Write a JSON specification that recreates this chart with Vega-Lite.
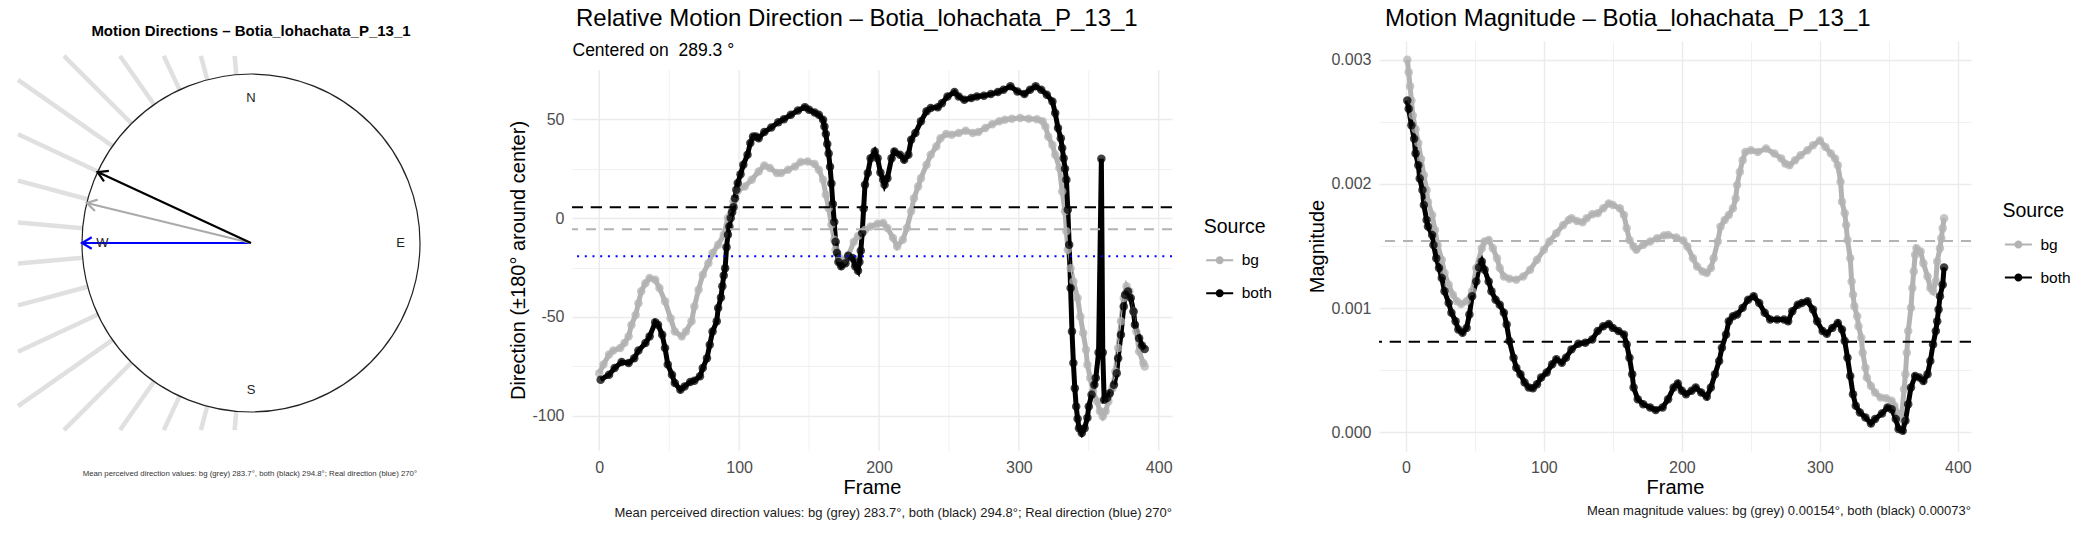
{
"$schema": "https://vega.github.io/schema/vega-lite/v6.json",
"background": "white",
"padding": {"left": 15, "top": 7, "right": 5, "bottom": 5},
"spacing": 24,
"config": {"font": "Liberation Sans", "view": {"stroke": null}},
"resolve": {"scale": {"x": "independent", "y": "independent", "color": "independent"}, "legend": {"color": "independent"}},
"datasets": {
"rays": [
{"b":185,"x1":-0.08716,"y1":-0.99619,"x2":-0.09685,"y2":-1.107},
{"b":195,"x1":-0.25882,"y1":-0.96593,"x2":-0.29662,"y2":-1.107},
{"b":205,"x1":-0.42262,"y1":-0.90631,"x2":-0.51621,"y2":-1.107},
{"b":215,"x1":-0.57358,"y1":-0.81915,"x2":-0.77514,"y2":-1.107},
{"b":225,"x1":-0.70711,"y1":-0.70711,"x2":-1.107,"y2":-1.107},
{"b":235,"x1":-0.81915,"y1":-0.57358,"x2":-1.379,"y2":-0.96559},
{"b":245,"x1":-0.90631,"y1":-0.42262,"x2":-1.379,"y2":-0.64304},
{"b":255,"x1":-0.96593,"y1":-0.25882,"x2":-1.379,"y2":-0.3695},
{"b":265,"x1":-0.99619,"y1":-0.08716,"x2":-1.379,"y2":-0.12065},
{"b":275,"x1":-0.99619,"y1":0.08716,"x2":-1.379,"y2":0.12065},
{"b":285,"x1":-0.96593,"y1":0.25882,"x2":-1.379,"y2":0.3695},
{"b":295,"x1":-0.90631,"y1":0.42262,"x2":-1.379,"y2":0.64304},
{"b":305,"x1":-0.81915,"y1":0.57358,"x2":-1.379,"y2":0.96559},
{"b":315,"x1":-0.70711,"y1":0.70711,"x2":-1.107,"y2":1.107},
{"b":325,"x1":-0.57358,"y1":0.81915,"x2":-0.77514,"y2":1.107},
{"b":335,"x1":-0.42262,"y1":0.90631,"x2":-0.51621,"y2":1.107},
{"b":345,"x1":-0.25882,"y1":0.96593,"x2":-0.29662,"y2":1.107},
{"b":355,"x1":-0.08716,"y1":0.99619,"x2":-0.09685,"y2":1.107}
],
"center": [{"x":0,"y":0}],
"arrows": [
{"k":"real","x0":0,"y0":0,"x":-1,"y":0,"rot":180},
{"k":"bg","x0":0,"y0":0,"x":-0.97154,"y":0.23684,"rot":193.7},
{"k":"both","x0":0,"y0":0,"x":-0.90778,"y":0.41945,"rot":204.8}
],
"compass": [
{"t":"N","x":0,"y":0.86},
{"t":"S","x":0,"y":-0.87},
{"t":"E","x":0.885,"y":0},
{"t":"W","x":-0.88,"y":0}
],
"xgrid": [{"g":0},{"g":50},{"g":100},{"g":150},{"g":200},{"g":250},{"g":300},{"g":350},{"g":400}],
"dmeans": [
{"k":"both","v":5.5},
{"k":"bg","v":-5.6},
{"k":"real","v":-19.3}
],
"mmeans": [
{"k":"bg","m":0.00154},
{"k":"both","m":0.00073}
],
"dir": [
{"f":0,"s":"bg","v":-78.4},{"f":3,"s":"bg","v":-74},{"f":7,"s":"bg","v":-69},{"f":10,"s":"bg","v":-67},{"f":15,"s":"bg","v":-65.7},{"f":18,"s":"bg","v":-63.2},{"f":21,"s":"bg","v":-59.8},{"f":23,"s":"bg","v":-54},{"f":26,"s":"bg","v":-49},{"f":28,"s":"bg","v":-43},{"f":30,"s":"bg","v":-37},{"f":33,"s":"bg","v":-32.9},{"f":36,"s":"bg","v":-30.3},{"f":40,"s":"bg","v":-31.2},{"f":43,"s":"bg","v":-35.4},{"f":47,"s":"bg","v":-42.1},{"f":51,"s":"bg","v":-50.6},{"f":54,"s":"bg","v":-57.3},{"f":59,"s":"bg","v":-59.8},{"f":62,"s":"bg","v":-57.3},{"f":66,"s":"bg","v":-52.2},{"f":68,"s":"bg","v":-44.7},{"f":71,"s":"bg","v":-36.2},{"f":74,"s":"bg","v":-28.6},{"f":78,"s":"bg","v":-22.8},{"f":81,"s":"bg","v":-17.7},{"f":85,"s":"bg","v":-13.5},{"f":89,"s":"bg","v":-8.4},{"f":92,"s":"bg","v":0},{"f":96,"s":"bg","v":8.4},{"f":99,"s":"bg","v":13.8},{"f":104,"s":"bg","v":16},{"f":109,"s":"bg","v":19.4},{"f":114,"s":"bg","v":23.6},{"f":118,"s":"bg","v":26.6},{"f":122,"s":"bg","v":25.3},{"f":127,"s":"bg","v":22.8},{"f":130,"s":"bg","v":22.8},{"f":135,"s":"bg","v":24.4},{"f":140,"s":"bg","v":26.1},{"f":144,"s":"bg","v":28.3},{"f":149,"s":"bg","v":28.6},{"f":154,"s":"bg","v":27.3},{"f":157,"s":"bg","v":24.4},{"f":160,"s":"bg","v":19.4},{"f":162,"s":"bg","v":11.8},{"f":164,"s":"bg","v":5},{"f":166,"s":"bg","v":-3.4},{"f":168,"s":"bg","v":-11},{"f":169,"s":"bg","v":-16},{"f":172,"s":"bg","v":-20.2},{"f":175,"s":"bg","v":-21.5},{"f":178,"s":"bg","v":-19},{"f":182,"s":"bg","v":-12},{"f":185,"s":"bg","v":-9},{"f":190,"s":"bg","v":-6},{"f":194,"s":"bg","v":-4.2},{"f":199,"s":"bg","v":-2.9},{"f":203,"s":"bg","v":-2.5},{"f":206,"s":"bg","v":-5},{"f":210,"s":"bg","v":-10},{"f":213,"s":"bg","v":-14.3},{"f":217,"s":"bg","v":-11},{"f":220,"s":"bg","v":-5},{"f":223,"s":"bg","v":3.4},{"f":225,"s":"bg","v":10},{"f":228,"s":"bg","v":16},{"f":230,"s":"bg","v":20.2},{"f":234,"s":"bg","v":27},{"f":237,"s":"bg","v":32},{"f":241,"s":"bg","v":36.2},{"f":244,"s":"bg","v":40.4},{"f":248,"s":"bg","v":42.5},{"f":252,"s":"bg","v":42.1},{"f":257,"s":"bg","v":43},{"f":262,"s":"bg","v":44.2},{"f":267,"s":"bg","v":43},{"f":271,"s":"bg","v":43.5},{"f":276,"s":"bg","v":45.5},{"f":281,"s":"bg","v":47.5},{"f":286,"s":"bg","v":48.9},{"f":290,"s":"bg","v":49.7},{"f":295,"s":"bg","v":50.2},{"f":301,"s":"bg","v":50.6},{"f":307,"s":"bg","v":50.2},{"f":313,"s":"bg","v":50},{"f":317,"s":"bg","v":48.9},{"f":319,"s":"bg","v":46.3},{"f":321,"s":"bg","v":41.3},{"f":324,"s":"bg","v":37},{"f":326,"s":"bg","v":32},{"f":329,"s":"bg","v":25.3},{"f":331,"s":"bg","v":13.5},{"f":333,"s":"bg","v":3.4},{"f":334,"s":"bg","v":-6.7},{"f":335,"s":"bg","v":-16},{"f":337,"s":"bg","v":-25.3},{"f":339,"s":"bg","v":-32},{"f":342,"s":"bg","v":-40.4},{"f":344,"s":"bg","v":-49.7},{"f":346,"s":"bg","v":-58.1},{"f":348,"s":"bg","v":-66.6},{"f":349,"s":"bg","v":-74.1},{"f":351,"s":"bg","v":-80.9},{"f":353,"s":"bg","v":-87.6},{"f":356,"s":"bg","v":-92.7},{"f":358,"s":"bg","v":-97.7},{"f":360,"s":"bg","v":-100.3},{"f":362,"s":"bg","v":-97.7},{"f":364,"s":"bg","v":-92.7},{"f":367,"s":"bg","v":-86},{"f":369,"s":"bg","v":-77.5},{"f":371,"s":"bg","v":-65.7},{"f":373,"s":"bg","v":-52.2},{"f":375,"s":"bg","v":-40.4},{"f":377,"s":"bg","v":-34.5},{"f":379,"s":"bg","v":-37},{"f":382,"s":"bg","v":-47.2},{"f":384,"s":"bg","v":-57.3},{"f":386,"s":"bg","v":-67.4},{"f":389,"s":"bg","v":-73.3},{"f":390,"s":"bg","v":-75},
{"f":1,"s":"both","v":-81.7},{"f":7,"s":"both","v":-79.2},{"f":11,"s":"both","v":-75.8},{"f":16,"s":"both","v":-72.8},{"f":21,"s":"both","v":-73.3},{"f":25,"s":"both","v":-70.8},{"f":28,"s":"both","v":-67},{"f":33,"s":"both","v":-63.2},{"f":36,"s":"both","v":-59.8},{"f":40,"s":"both","v":-52.7},{"f":42,"s":"both","v":-53.9},{"f":45,"s":"both","v":-59},{"f":47,"s":"both","v":-65.7},{"f":49,"s":"both","v":-74},{"f":52,"s":"both","v":-79.2},{"f":54,"s":"both","v":-83.4},{"f":58,"s":"both","v":-86.8},{"f":61,"s":"both","v":-85.1},{"f":65,"s":"both","v":-82.9},{"f":68,"s":"both","v":-82.2},{"f":72,"s":"both","v":-80},{"f":74,"s":"both","v":-75.8},{"f":77,"s":"both","v":-70.8},{"f":79,"s":"both","v":-64},{"f":81,"s":"both","v":-57.3},{"f":84,"s":"both","v":-52.2},{"f":85,"s":"both","v":-45.5},{"f":87,"s":"both","v":-40.1},{"f":88,"s":"both","v":-34.5},{"f":89,"s":"both","v":-29},{"f":90,"s":"both","v":-25.3},{"f":91,"s":"both","v":-14.8},{"f":92,"s":"both","v":-8.4},{"f":93,"s":"both","v":-4.2},{"f":94,"s":"both","v":0},{"f":95,"s":"both","v":3},{"f":96,"s":"both","v":5.5},{"f":97,"s":"both","v":10},{"f":98,"s":"both","v":14.3},{"f":99,"s":"both","v":17.7},{"f":101,"s":"both","v":22.2},{"f":103,"s":"both","v":27},{"f":106,"s":"both","v":32},{"f":108,"s":"both","v":38},{"f":110,"s":"both","v":41.3},{"f":112,"s":"both","v":41.3},{"f":114,"s":"both","v":40.4},{"f":118,"s":"both","v":43.5},{"f":123,"s":"both","v":45.8},{"f":128,"s":"both","v":48.4},{"f":132,"s":"both","v":50},{"f":137,"s":"both","v":52.2},{"f":142,"s":"both","v":54.4},{"f":147,"s":"both","v":56.1},{"f":150,"s":"both","v":54.8},{"f":154,"s":"both","v":53.4},{"f":157,"s":"both","v":52.2},{"f":160,"s":"both","v":49.7},{"f":161,"s":"both","v":46.3},{"f":162,"s":"both","v":42.5},{"f":163,"s":"both","v":37.4},{"f":164,"s":"both","v":32.7},{"f":165,"s":"both","v":26},{"f":166,"s":"both","v":17.5},{"f":167,"s":"both","v":7.1},{"f":168,"s":"both","v":-2},{"f":169,"s":"both","v":-12},{"f":170,"s":"both","v":-17.7},{"f":171,"s":"both","v":-22.2},{"f":173,"s":"both","v":-24.4},{"f":176,"s":"both","v":-22.8},{"f":178,"s":"both","v":-19},{"f":181,"s":"both","v":-20.2},{"f":183,"s":"both","v":-24.4},{"f":185,"s":"both","v":-26.6},{"f":186,"s":"both","v":-22.2},{"f":187,"s":"both","v":-16.5},{"f":188,"s":"both","v":-7.6},{"f":189,"s":"both","v":4.7},{"f":190,"s":"both","v":16.9},{"f":192,"s":"both","v":22.8},{"f":194,"s":"both","v":30.3},{"f":197,"s":"both","v":33.7},{"f":199,"s":"both","v":30.3},{"f":201,"s":"both","v":23},{"f":203,"s":"both","v":19.4},{"f":204,"s":"both","v":16.9},{"f":206,"s":"both","v":20.2},{"f":209,"s":"both","v":30.3},{"f":211,"s":"both","v":33.7},{"f":215,"s":"both","v":32},{"f":218,"s":"both","v":29.5},{"f":221,"s":"both","v":32},{"f":223,"s":"both","v":39.6},{"f":226,"s":"both","v":43},{"f":230,"s":"both","v":48.9},{"f":234,"s":"both","v":54},{"f":237,"s":"both","v":55.6},{"f":242,"s":"both","v":56},{"f":245,"s":"both","v":58.1},{"f":249,"s":"both","v":61.5},{"f":254,"s":"both","v":63.7},{"f":257,"s":"both","v":61.5},{"f":261,"s":"both","v":59.8},{"f":266,"s":"both","v":60.7},{"f":270,"s":"both","v":61.5},{"f":275,"s":"both","v":61.8},{"f":280,"s":"both","v":62.7},{"f":285,"s":"both","v":63.7},{"f":289,"s":"both","v":64.9},{"f":294,"s":"both","v":66.6},{"f":299,"s":"both","v":64},{"f":304,"s":"both","v":62.7},{"f":308,"s":"both","v":64.9},{"f":312,"s":"both","v":66.6},{"f":316,"s":"both","v":64.9},{"f":320,"s":"both","v":62.4},{"f":324,"s":"both","v":59},{"f":326,"s":"both","v":53.1},{"f":328,"s":"both","v":45.5},{"f":330,"s":"both","v":40.4},{"f":331,"s":"both","v":35.4},{"f":332,"s":"both","v":30.3},{"f":333,"s":"both","v":25},{"f":334,"s":"both","v":19.4},{"f":335,"s":"both","v":4.2},{"f":336,"s":"both","v":-13.5},{"f":337,"s":"both","v":-35.4},{"f":338,"s":"both","v":-57.3},{"f":339,"s":"both","v":-73.3},{"f":340,"s":"both","v":-86},{"f":341,"s":"both","v":-95.2},{"f":342,"s":"both","v":-101.4},{"f":343,"s":"both","v":-106.2},{"f":345,"s":"both","v":-108.7},{"f":347,"s":"both","v":-106.2},{"f":349,"s":"both","v":-101},{"f":350,"s":"both","v":-95.2},{"f":352,"s":"both","v":-89.3},{"f":354,"s":"both","v":-84.3},{"f":355,"s":"both","v":-80.9},{"f":357,"s":"both","v":-68},{"f":359,"s":"both","v":30},{"f":360,"s":"both","v":-68},{"f":361,"s":"both","v":-91.8},{"f":363,"s":"both","v":-91},{"f":365,"s":"both","v":-88.5},{"f":368,"s":"both","v":-84.3},{"f":370,"s":"both","v":-78.4},{"f":371,"s":"both","v":-70.8},{"f":373,"s":"both","v":-59},{"f":375,"s":"both","v":-44.7},{"f":376,"s":"both","v":-38.8},{"f":378,"s":"both","v":-37.1},{"f":380,"s":"both","v":-40.4},{"f":382,"s":"both","v":-47.2},{"f":383,"s":"both","v":-53.9},{"f":386,"s":"both","v":-60.7},{"f":388,"s":"both","v":-64.4},{"f":390,"s":"both","v":-66.2}
],
"mag": [
{"f":1,"s":"bg","m":0.003},{"f":2,"s":"bg","m":0.002898},{"f":3,"s":"bg","m":0.002786},{"f":4,"s":"bg","m":0.002671},{"f":5,"s":"bg","m":0.002551},{"f":7,"s":"bg","m":0.00244},{"f":9,"s":"bg","m":0.00233},{"f":11,"s":"bg","m":0.0022},{"f":13,"s":"bg","m":0.00207},{"f":15,"s":"bg","m":0.00195},{"f":16,"s":"bg","m":0.001856},{"f":19,"s":"bg","m":0.001749},{"f":21,"s":"bg","m":0.001629},{"f":23,"s":"bg","m":0.001509},{"f":26,"s":"bg","m":0.001389},{"f":28,"s":"bg","m":0.001282},{"f":31,"s":"bg","m":0.001189},{"f":34,"s":"bg","m":0.001108},{"f":37,"s":"bg","m":0.001055},{"f":40,"s":"bg","m":0.001034},{"f":44,"s":"bg","m":0.001055},{"f":48,"s":"bg","m":0.001135},{"f":51,"s":"bg","m":0.001322},{"f":55,"s":"bg","m":0.001482},{"f":57,"s":"bg","m":0.001536},{"f":60,"s":"bg","m":0.001549},{"f":63,"s":"bg","m":0.001482},{"f":66,"s":"bg","m":0.001402},{"f":68,"s":"bg","m":0.001322},{"f":71,"s":"bg","m":0.001255},{"f":75,"s":"bg","m":0.001237},{"f":80,"s":"bg","m":0.001229},{"f":85,"s":"bg","m":0.001255},{"f":90,"s":"bg","m":0.001309},{"f":95,"s":"bg","m":0.001389},{"f":100,"s":"bg","m":0.001469},{"f":104,"s":"bg","m":0.001536},{"f":109,"s":"bg","m":0.001603},{"f":114,"s":"bg","m":0.001669},{"f":118,"s":"bg","m":0.001709},{"f":120,"s":"bg","m":0.001723},{"f":124,"s":"bg","m":0.001701},{"f":128,"s":"bg","m":0.001691},{"f":131,"s":"bg","m":0.001723},{"f":135,"s":"bg","m":0.001755},{"f":139,"s":"bg","m":0.001763},{"f":143,"s":"bg","m":0.001803},{"f":147,"s":"bg","m":0.001843},{"f":150,"s":"bg","m":0.00183},{"f":155,"s":"bg","m":0.001803},{"f":158,"s":"bg","m":0.001749},{"f":160,"s":"bg","m":0.001643},{"f":162,"s":"bg","m":0.001549},{"f":165,"s":"bg","m":0.001496},{"f":167,"s":"bg","m":0.001469},{"f":172,"s":"bg","m":0.001509},{"f":177,"s":"bg","m":0.001536},{"f":182,"s":"bg","m":0.001562},{"f":187,"s":"bg","m":0.001584},{"f":190,"s":"bg","m":0.001589},{"f":196,"s":"bg","m":0.001568},{"f":201,"s":"bg","m":0.001545},{"f":204,"s":"bg","m":0.001496},{"f":208,"s":"bg","m":0.001402},{"f":211,"s":"bg","m":0.001335},{"f":215,"s":"bg","m":0.001295},{"f":218,"s":"bg","m":0.001282},{"f":221,"s":"bg","m":0.001322},{"f":223,"s":"bg","m":0.001402},{"f":226,"s":"bg","m":0.001536},{"f":228,"s":"bg","m":0.001656},{"f":231,"s":"bg","m":0.001709},{"f":234,"s":"bg","m":0.001749},{"f":237,"s":"bg","m":0.001803},{"f":239,"s":"bg","m":0.001883},{"f":240,"s":"bg","m":0.00199},{"f":242,"s":"bg","m":0.002097},{"f":244,"s":"bg","m":0.00219},{"f":246,"s":"bg","m":0.002257},{"f":250,"s":"bg","m":0.00227},{"f":255,"s":"bg","m":0.002257},{"f":261,"s":"bg","m":0.002284},{"f":267,"s":"bg","m":0.002244},{"f":272,"s":"bg","m":0.002204},{"f":275,"s":"bg","m":0.002163},{"f":278,"s":"bg","m":0.00215},{"f":282,"s":"bg","m":0.00219},{"f":286,"s":"bg","m":0.00223},{"f":291,"s":"bg","m":0.00227},{"f":295,"s":"bg","m":0.00231},{"f":300,"s":"bg","m":0.00235},{"f":304,"s":"bg","m":0.002297},{"f":308,"s":"bg","m":0.002244},{"f":311,"s":"bg","m":0.002204},{"f":313,"s":"bg","m":0.00215},{"f":315,"s":"bg","m":0.002017},{"f":316,"s":"bg","m":0.001856},{"f":318,"s":"bg","m":0.001763},{"f":319,"s":"bg","m":0.001669},{"f":320,"s":"bg","m":0.001549},{"f":322,"s":"bg","m":0.001402},{"f":323,"s":"bg","m":0.001215},{"f":324,"s":"bg","m":0.001108},{"f":325,"s":"bg","m":0.001015},{"f":327,"s":"bg","m":0.000935},{"f":328,"s":"bg","m":0.000855},{"f":330,"s":"bg","m":0.000761},{"f":331,"s":"bg","m":0.000641},{"f":333,"s":"bg","m":0.000521},{"f":334,"s":"bg","m":0.000441},{"f":337,"s":"bg","m":0.000374},{"f":340,"s":"bg","m":0.000321},{"f":344,"s":"bg","m":0.00028},{"f":348,"s":"bg","m":0.000275},{"f":352,"s":"bg","m":0.000254},{"f":354,"s":"bg","m":0.000214},{"f":357,"s":"bg","m":0.000147},{"f":359,"s":"bg","m":0.000107},{"f":361,"s":"bg","m":0.000347},{"f":362,"s":"bg","m":0.000467},{"f":363,"s":"bg","m":0.000641},{"f":364,"s":"bg","m":0.000815},{"f":366,"s":"bg","m":0.001002},{"f":367,"s":"bg","m":0.001162},{"f":368,"s":"bg","m":0.001295},{"f":369,"s":"bg","m":0.001429},{"f":370,"s":"bg","m":0.001482},{"f":373,"s":"bg","m":0.001456},{"f":375,"s":"bg","m":0.001362},{"f":378,"s":"bg","m":0.001255},{"f":380,"s":"bg","m":0.001162},{"f":382,"s":"bg","m":0.001135},{"f":384,"s":"bg","m":0.001215},{"f":385,"s":"bg","m":0.001376},{"f":387,"s":"bg","m":0.001482},{"f":388,"s":"bg","m":0.001563},{"f":389,"s":"bg","m":0.001643},{"f":390,"s":"bg","m":0.001723},
{"f":1,"s":"both","m":0.002671},{"f":2,"s":"both","m":0.002604},{"f":4,"s":"both","m":0.002471},{"f":6,"s":"both","m":0.002364},{"f":7,"s":"both","m":0.002244},{"f":9,"s":"both","m":0.00215},{"f":10,"s":"both","m":0.002043},{"f":12,"s":"both","m":0.00195},{"f":13,"s":"both","m":0.00183},{"f":15,"s":"both","m":0.001709},{"f":16,"s":"both","m":0.001656},{"f":19,"s":"both","m":0.001589},{"f":20,"s":"both","m":0.001509},{"f":22,"s":"both","m":0.001402},{"f":24,"s":"both","m":0.001322},{"f":26,"s":"both","m":0.001242},{"f":28,"s":"both","m":0.001135},{"f":31,"s":"both","m":0.001042},{"f":33,"s":"both","m":0.000962},{"f":36,"s":"both","m":0.000895},{"f":38,"s":"both","m":0.000828},{"f":41,"s":"both","m":0.000801},{"f":44,"s":"both","m":0.000841},{"f":46,"s":"both","m":0.000948},{"f":48,"s":"both","m":0.001095},{"f":51,"s":"both","m":0.001215},{"f":53,"s":"both","m":0.001327},{"f":55,"s":"both","m":0.001375},{"f":57,"s":"both","m":0.001309},{"f":60,"s":"both","m":0.001215},{"f":62,"s":"both","m":0.001135},{"f":65,"s":"both","m":0.001068},{"f":68,"s":"both","m":0.001028},{"f":71,"s":"both","m":0.000962},{"f":73,"s":"both","m":0.000868},{"f":75,"s":"both","m":0.000735},{"f":78,"s":"both","m":0.000601},{"f":80,"s":"both","m":0.000521},{"f":83,"s":"both","m":0.000467},{"f":86,"s":"both","m":0.000401},{"f":89,"s":"both","m":0.000361},{"f":92,"s":"both","m":0.000355},{"f":95,"s":"both","m":0.000387},{"f":98,"s":"both","m":0.000441},{"f":102,"s":"both","m":0.000481},{"f":106,"s":"both","m":0.000548},{"f":109,"s":"both","m":0.000588},{"f":113,"s":"both","m":0.000561},{"f":116,"s":"both","m":0.000601},{"f":120,"s":"both","m":0.000668},{"f":125,"s":"both","m":0.000713},{"f":130,"s":"both","m":0.000721},{"f":135,"s":"both","m":0.000748},{"f":139,"s":"both","m":0.000815},{"f":143,"s":"both","m":0.000855},{"f":147,"s":"both","m":0.000873},{"f":150,"s":"both","m":0.000841},{"f":154,"s":"both","m":0.000815},{"f":158,"s":"both","m":0.000788},{"f":160,"s":"both","m":0.000708},{"f":162,"s":"both","m":0.000601},{"f":164,"s":"both","m":0.000467},{"f":165,"s":"both","m":0.000361},{"f":168,"s":"both","m":0.000267},{"f":172,"s":"both","m":0.000227},{"f":177,"s":"both","m":0.0002},{"f":181,"s":"both","m":0.000179},{"f":186,"s":"both","m":0.0002},{"f":190,"s":"both","m":0.000267},{"f":194,"s":"both","m":0.000361},{"f":197,"s":"both","m":0.000393},{"f":200,"s":"both","m":0.000334},{"f":203,"s":"both","m":0.000307},{"f":207,"s":"both","m":0.000334},{"f":210,"s":"both","m":0.000361},{"f":214,"s":"both","m":0.000321},{"f":218,"s":"both","m":0.000286},{"f":221,"s":"both","m":0.000361},{"f":224,"s":"both","m":0.000467},{"f":227,"s":"both","m":0.000574},{"f":229,"s":"both","m":0.000681},{"f":232,"s":"both","m":0.000788},{"f":234,"s":"both","m":0.000895},{"f":237,"s":"both","m":0.000935},{"f":240,"s":"both","m":0.000948},{"f":244,"s":"both","m":0.001002},{"f":248,"s":"both","m":0.001068},{"f":252,"s":"both","m":0.001095},{"f":256,"s":"both","m":0.001042},{"f":260,"s":"both","m":0.000962},{"f":264,"s":"both","m":0.000908},{"f":269,"s":"both","m":0.000908},{"f":274,"s":"both","m":0.000908},{"f":277,"s":"both","m":0.000895},{"f":280,"s":"both","m":0.000975},{"f":284,"s":"both","m":0.001028},{"f":287,"s":"both","m":0.001042},{"f":291,"s":"both","m":0.001055},{"f":295,"s":"both","m":0.000988},{"f":298,"s":"both","m":0.000895},{"f":302,"s":"both","m":0.000815},{"f":305,"s":"both","m":0.000793},{"f":309,"s":"both","m":0.000841},{"f":313,"s":"both","m":0.000881},{"f":316,"s":"both","m":0.000828},{"f":318,"s":"both","m":0.000735},{"f":320,"s":"both","m":0.000601},{"f":322,"s":"both","m":0.000454},{"f":324,"s":"both","m":0.000307},{"f":326,"s":"both","m":0.000214},{"f":329,"s":"both","m":0.00016},{"f":333,"s":"both","m":0.00012},{"f":337,"s":"both","m":0.000072},{"f":340,"s":"both","m":0.000107},{"f":345,"s":"both","m":0.000152},{"f":349,"s":"both","m":0.0002},{"f":352,"s":"both","m":0.000187},{"f":355,"s":"both","m":0.000107},{"f":357,"s":"both","m":0.000027},{"f":360,"s":"both","m":0.000013},{"f":362,"s":"both","m":0.000094},{"f":364,"s":"both","m":0.000227},{"f":366,"s":"both","m":0.000361},{"f":369,"s":"both","m":0.000454},{"f":372,"s":"both","m":0.000441},{"f":375,"s":"both","m":0.000414},{"f":378,"s":"both","m":0.000467},{"f":380,"s":"both","m":0.000574},{"f":382,"s":"both","m":0.000708},{"f":384,"s":"both","m":0.000815},{"f":385,"s":"both","m":0.000895},{"f":386,"s":"both","m":0.000988},{"f":387,"s":"both","m":0.001095},{"f":389,"s":"both","m":0.001189},{"f":390,"s":"both","m":0.001327}
]
},
"hconcat": [
{
"title": {"text": "Mean perceived direction values: bg (grey) 283.7°, both (black) 294.8°; Real direction (blue) 270°", "orient": "bottom", "anchor": "middle", "fontSize": 7.8, "fontWeight": "normal", "color": "#333333", "offset": 25},
"vconcat": [
{
"width": 466, "height": 404,
"title": {"text": "Motion Directions – Botia_lohachata_P_13_1", "anchor": "middle", "fontSize": 15, "fontWeight": "bold", "color": "#000000", "offset": 2},
"layer": [
{"data": {"name": "rays"}, "mark": {"type": "rule", "color": "#e0e0e0", "strokeWidth": 4.5},
 "encoding": {"x": {"field": "x1", "type": "quantitative", "scale": {"domain": [-1.379, 1.379], "nice": false, "zero": false}, "axis": null},
  "y": {"field": "y1", "type": "quantitative", "scale": {"domain": [-1.1953, 1.1953], "nice": false, "zero": false}, "axis": null},
  "x2": {"field": "x2"}, "y2": {"field": "y2"}}},
{"data": {"name": "center"}, "mark": {"type": "point", "shape": "circle", "filled": false, "size": 114244, "stroke": "#222222", "strokeWidth": 1.2, "opacity": 1},
 "encoding": {"x": {"field": "x", "type": "quantitative", "scale": {"domain": [-1.379, 1.379], "nice": false, "zero": false}, "axis": null},
  "y": {"field": "y", "type": "quantitative", "scale": {"domain": [-1.1953, 1.1953], "nice": false, "zero": false}, "axis": null}}},
{"data": {"name": "arrows"}, "mark": {"type": "rule", "strokeWidth": 2.2},
 "encoding": {"x": {"field": "x0", "type": "quantitative", "scale": {"domain": [-1.379, 1.379], "nice": false, "zero": false}, "axis": null},
  "y": {"field": "y0", "type": "quantitative", "scale": {"domain": [-1.1953, 1.1953], "nice": false, "zero": false}, "axis": null},
  "x2": {"field": "x"}, "y2": {"field": "y"},
  "color": {"field": "k", "type": "nominal", "scale": {"domain": ["real", "bg", "both"], "range": ["#0000ff", "#aaaaaa", "#000000"]}, "legend": null}}},
{"data": {"name": "arrows"}, "mark": {"type": "point", "shape": "M-1,-0.6L0,0L-1,0.6", "filled": false, "size": 376, "strokeWidth": 2.2, "opacity": 1},
 "encoding": {"x": {"field": "x", "type": "quantitative", "scale": {"domain": [-1.379, 1.379], "nice": false, "zero": false}, "axis": null},
  "y": {"field": "y", "type": "quantitative", "scale": {"domain": [-1.1953, 1.1953], "nice": false, "zero": false}, "axis": null},
  "angle": {"field": "rot", "type": "quantitative", "scale": null},
  "color": {"field": "k", "type": "nominal", "scale": {"domain": ["real", "bg", "both"], "range": ["#0000ff", "#aaaaaa", "#000000"]}, "legend": null}}},
{"data": {"name": "compass"}, "mark": {"type": "text", "fontSize": 13, "color": "#222222", "baseline": "middle", "align": "center"},
 "encoding": {"x": {"field": "x", "type": "quantitative", "scale": {"domain": [-1.379, 1.379], "nice": false, "zero": false}, "axis": null},
  "y": {"field": "y", "type": "quantitative", "scale": {"domain": [-1.1953, 1.1953], "nice": false, "zero": false}, "axis": null},
  "text": {"field": "t"}}}
]
}
]
},
{
"title": {"text": "Relative Motion Direction – Botia_lohachata_P_13_1", "anchor": "start", "dx": 67, "fontSize": 24, "fontWeight": "normal", "color": "#000000", "offset": 10},
"resolve": {"scale": {"color": "independent"}, "legend": {"color": "independent"}},
"vconcat": [
{
"width": 600, "height": 410,
"title": {"text": "Mean perceived direction values: bg (grey) 283.7°, both (black) 294.8°; Real direction (blue) 270°", "orient": "bottom", "anchor": "end", "frame": "group", "fontSize": 13, "fontWeight": "normal", "color": "#1a1a1a", "offset": 10},
"resolve": {"axis": {"x": "independent"}},
"layer": [
{"data": {"name": "xgrid"}, "transform": [{"filter": "datum.g % 100 !== 0"}], "mark": {"type": "rule", "color": "#ebebeb", "strokeWidth": 0.7},
 "encoding": {"x": {"field": "g", "type": "quantitative", "scale": {"domain": [-19.5, 409.5], "nice": false, "zero": false}, "axis": null},
  "y": {"datum": -117.75, "type": "quantitative", "scale": {"domain": [-117.75, 89.53], "nice": false, "zero": false}}, "y2": {"datum": 74.75}}},
{"data": {"name": "xgrid"}, "transform": [{"filter": "datum.g % 100 === 0"}], "mark": {"type": "rule", "color": "#ebebeb", "strokeWidth": 1.4},
 "encoding": {"x": {"field": "g", "type": "quantitative", "axis": null},
  "y": {"datum": -117.75, "type": "quantitative"}, "y2": {"datum": 74.75}}},
{"data": {"name": "dir"}, "transform": [{"filter": "datum.s === 'bg'"}], "mark": {"type": "line", "strokeWidth": 5, "color": "#b3b3b3"},
 "encoding": {
  "x": {"field": "f", "type": "quantitative", "title": "Frame",
   "axis": {"orient": "bottom", "values": [0, 100, 200, 300, 400], "grid": false, "ticks": false, "domain": false, "labelFlush": false, "labelOverlap": false, "labelFontSize": 16, "labelColor": "#4d4d4d", "labelPadding": 8, "titleFontSize": 20, "titleFontWeight": "normal", "titleColor": "#000000", "titlePadding": 2}},
  "y": {"field": "v", "type": "quantitative", "title": "Direction (±180° around center)",
   "axis": {"values": [-100, -75, -50, -25, 0, 25, 50], "labelExpr": "datum.value % 50 === 0 ? toString(datum.value) : ''", "grid": true, "gridColor": "#ebebeb", "gridWidth": {"condition": {"test": "datum.value % 50 === 0", "value": 1.4}, "value": 0.7}, "ticks": false, "domain": false, "labelOverlap": false, "labelFontSize": 16, "labelColor": "#4d4d4d", "labelPadding": 8, "titleFontSize": 20, "titleFontWeight": "normal", "titleColor": "#000000", "titlePadding": 3, "titleY": 219}}}},
{"data": {"name": "dir"}, "transform": [{"filter": "datum.s === 'both'"}], "mark": {"type": "line", "strokeWidth": 5, "color": "#000000"},
 "encoding": {"x": {"field": "f", "type": "quantitative", "axis": null}, "y": {"field": "v", "type": "quantitative"}}},
{"data": {"name": "dir"}, "transform": [{"filter": "datum.s === 'bg'"}], "mark": {"type": "line", "strokeWidth": 1.6, "color": "#b3b3b3"},
 "encoding": {"x": {"field": "f", "type": "quantitative", "axis": null}, "y": {"field": "v", "type": "quantitative"}}},
{"data": {"name": "dir"}, "transform": [{"filter": "datum.s === 'both'"}], "mark": {"type": "line", "strokeWidth": 1.6, "color": "#000000"},
 "encoding": {"x": {"field": "f", "type": "quantitative", "axis": null}, "y": {"field": "v", "type": "quantitative"}}},
{"data": {"name": "dir"}, "mark": {"type": "point", "filled": true, "size": 72, "opacity": 0.75},
 "encoding": {
  "x": {"field": "f", "type": "quantitative", "title": "Centered on\u00a0 289.3 °",
   "axis": {"orient": "top", "offset": -28.8, "labels": false, "ticks": false, "domain": false, "grid": false, "minExtent": 0, "titleAnchor": "start", "titleAlign": "left", "titleX": 0, "titleFontSize": 17.5, "titleFontWeight": "normal", "titleColor": "#000000", "titleBaseline": "alphabetic", "titlePadding": 14.8}},
  "y": {"field": "v", "type": "quantitative"},
  "color": {"field": "s", "type": "nominal", "scale": {"domain": ["bg", "both"], "range": ["#b3b3b3", "#000000"]},
   "legend": {"title": "Source", "orient": "none", "legendX": 621.7, "legendY": 167.3, "symbolType": "M-1.5,-0.11L1.5,-0.11L1.5,0.11L-1.5,0.11Z M-0.45,0A0.45,0.45 0 1,1 0.45,0A0.45,0.45 0 1,1 -0.45,0Z", "symbolSize": 324, "symbolOpacity": 1, "symbolOffset": 6, "labelOffset": 12, "labelFontSize": 15.5, "labelColor": "#000000", "titleFontSize": 19.5, "titleFontWeight": "normal", "titleColor": "#000000", "titlePadding": 12.5, "rowPadding": 14, "padding": 10}}}},
{"data": {"name": "dmeans"}, "transform": [{"filter": "datum.k === 'both'"}], "mark": {"type": "rule", "color": "#000000", "strokeWidth": 2, "strokeDash": [11.3, 7.7]},
 "encoding": {"y": {"field": "v", "type": "quantitative"}}},
{"data": {"name": "dmeans"}, "transform": [{"filter": "datum.k === 'bg'"}], "mark": {"type": "rule", "color": "#b3b3b3", "strokeWidth": 2, "strokeDash": [10, 8]},
 "encoding": {"y": {"field": "v", "type": "quantitative"}}},
{"data": {"name": "dmeans"}, "transform": [{"filter": "datum.k === 'real'"}], "mark": {"type": "rule", "color": "#0000ff", "strokeWidth": 2, "strokeDash": [2, 5.7]},
 "encoding": {"y": {"field": "v", "type": "quantitative"}}}
]
}
]
},
{
"title": {"text": "Motion Magnitude – Botia_lohachata_P_13_1", "anchor": "start", "dx": 77, "fontSize": 24, "fontWeight": "normal", "color": "#000000", "offset": 10},
"resolve": {"scale": {"color": "independent"}, "legend": {"color": "independent"}},
"vconcat": [
{
"width": 592, "height": 410,
"title": {"text": "Mean magnitude values: bg (grey) 0.00154°, both (black) 0.00073°", "orient": "bottom", "anchor": "end", "frame": "group", "fontSize": 13, "fontWeight": "normal", "color": "#1a1a1a", "offset": 8},
"layer": [
{"data": {"name": "mag"}, "transform": [{"filter": "datum.s === 'bg'"}], "mark": {"type": "line", "strokeWidth": 5, "color": "#b3b3b3"},
 "encoding": {
  "x": {"field": "f", "type": "quantitative", "title": "Frame", "scale": {"domain": [-19.5, 409.5], "nice": false, "zero": false},
   "axis": {"values": [0, 50, 100, 150, 200, 250, 300, 350, 400], "labelExpr": "datum.value % 100 === 0 ? datum.label : ''", "grid": true, "gridColor": "#ebebeb", "gridWidth": {"condition": {"test": "datum.value % 100 === 0", "value": 1.4}, "value": 0.7}, "ticks": false, "domain": false, "labelFlush": false, "labelOverlap": false, "labelFontSize": 16, "labelColor": "#4d4d4d", "labelPadding": 8, "titleFontSize": 20, "titleFontWeight": "normal", "titleColor": "#000000", "titlePadding": 2}},
  "y": {"field": "m", "type": "quantitative", "title": "Magnitude", "scale": {"domain": [-0.00015, 0.00315], "nice": false, "zero": false},
   "axis": {"values": [0, 0.0005, 0.001, 0.0015, 0.002, 0.0025, 0.003], "labelExpr": "abs(datum.value*1000 - round(datum.value*1000)) < 0.000001 ? format(datum.value, '.3f') : ''", "grid": true, "gridColor": "#ebebeb", "gridWidth": {"condition": {"test": "abs(datum.value*1000 - round(datum.value*1000)) < 0.000001", "value": 1.4}, "value": 0.7}, "ticks": false, "domain": false, "labelOverlap": false, "labelFontSize": 16, "labelColor": "#4d4d4d", "labelPadding": 8, "titleFontSize": 20, "titleFontWeight": "normal", "titleColor": "#000000", "titlePadding": 3}}}},
{"data": {"name": "mag"}, "transform": [{"filter": "datum.s === 'both'"}], "mark": {"type": "line", "strokeWidth": 5, "color": "#000000"},
 "encoding": {"x": {"field": "f", "type": "quantitative"}, "y": {"field": "m", "type": "quantitative"}}},
{"data": {"name": "mag"}, "transform": [{"filter": "datum.s === 'bg'"}], "mark": {"type": "line", "strokeWidth": 1.6, "color": "#b3b3b3"},
 "encoding": {"x": {"field": "f", "type": "quantitative"}, "y": {"field": "m", "type": "quantitative"}}},
{"data": {"name": "mag"}, "transform": [{"filter": "datum.s === 'both'"}], "mark": {"type": "line", "strokeWidth": 1.6, "color": "#000000"},
 "encoding": {"x": {"field": "f", "type": "quantitative"}, "y": {"field": "m", "type": "quantitative"}}},
{"data": {"name": "mag"}, "mark": {"type": "point", "filled": true, "size": 72, "opacity": 0.75},
 "encoding": {
  "x": {"field": "f", "type": "quantitative"},
  "y": {"field": "m", "type": "quantitative"},
  "color": {"field": "s", "type": "nominal", "scale": {"domain": ["bg", "both"], "range": ["#b3b3b3", "#000000"]},
   "legend": {"title": "Source", "orient": "none", "legendX": 617.4, "legendY": 155, "symbolType": "M-1.5,-0.11L1.5,-0.11L1.5,0.11L-1.5,0.11Z M-0.45,0A0.45,0.45 0 1,1 0.45,0A0.45,0.45 0 1,1 -0.45,0Z", "symbolSize": 324, "symbolOpacity": 1, "symbolOffset": 6, "labelOffset": 12, "labelFontSize": 15.5, "labelColor": "#000000", "titleFontSize": 19.5, "titleFontWeight": "normal", "titleColor": "#000000", "titlePadding": 13, "rowPadding": 14, "padding": 6}}}},
{"data": {"name": "mmeans"}, "transform": [{"filter": "datum.k === 'bg'"}], "mark": {"type": "rule", "color": "#b3b3b3", "strokeWidth": 2, "strokeDash": [10, 8]},
 "encoding": {"y": {"field": "m", "type": "quantitative"}}},
{"data": {"name": "mmeans"}, "transform": [{"filter": "datum.k === 'both'"}], "mark": {"type": "rule", "color": "#000000", "strokeWidth": 2, "strokeDash": [11.3, 7.7]},
 "encoding": {"y": {"field": "m", "type": "quantitative"}}}
]
}
]
}
]
}
